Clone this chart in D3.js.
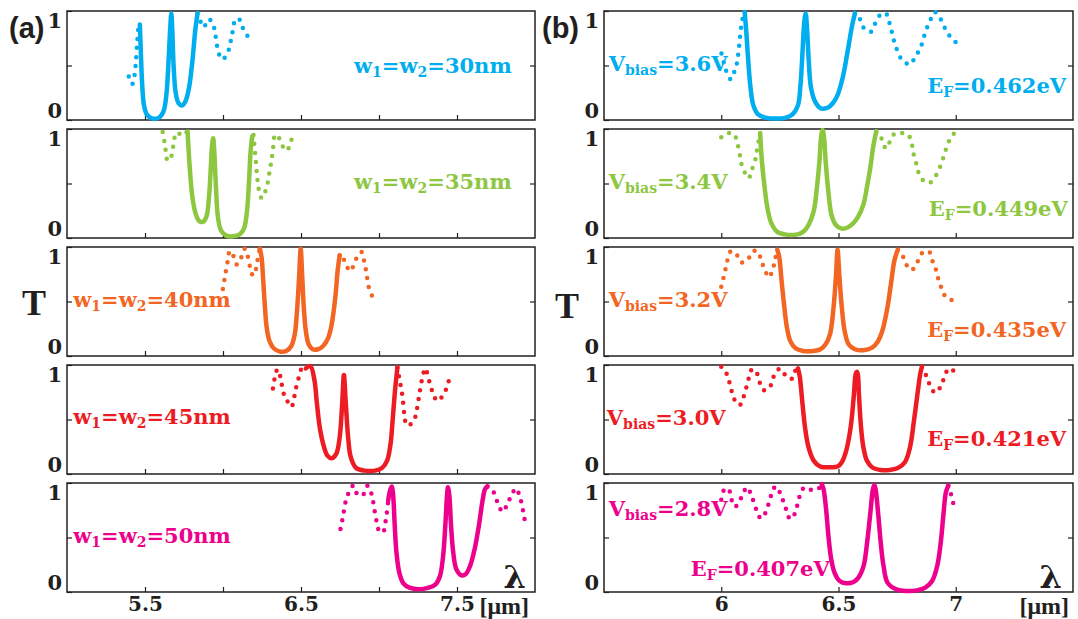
<!DOCTYPE html>
<html lang="en">
<head>
<meta charset="utf-8">
<title>Transmission spectra</title>
<script src="https://cdn.jsdelivr.net/npm/d3@7"></script>
<style>
body { margin: 0; background: #fff; }
svg text { font-family: "DejaVu Serif", serif; font-weight: bold; }
.frame { fill: none; stroke: #231f20; stroke-width: 1.5; }
.solid { fill: none; stroke-width: 4.5; stroke-linejoin: round; stroke-linecap: round; }
.dots { fill: none; stroke-width: 4.5; stroke-linecap: round; stroke-dasharray: 0 9; }
</style>
</head>
<body>
<svg width="1078" height="619"></svg>
<script>

// ---- data: [wavelength (um), T] ----

// (a) w1=w2=30nm
var w30Solid = [[5.467,0.876],[5.473,0.635],[5.482,0.325],[5.493,0.139],[5.511,0.053],[5.544,0.015],[5.589,0.022],[5.618,0.077],[5.637,0.232],[5.651,0.542],[5.662,0.851],[5.669,0.98],[5.675,0.82],[5.684,0.48],[5.697,0.248],[5.715,0.155],[5.737,0.133],[5.759,0.17],[5.782,0.294],[5.804,0.542],[5.822,0.82],[5.837,0.98]];
var w30Left = [[5.396,0.40],[5.418,0.33],[5.433,0.41],[5.442,0.54],[5.451,0.73],[5.46,0.86],[5.467,0.876]];
var w30Right = [[5.837,0.98],[5.877,0.851],[5.904,0.923],[5.932,0.898],[5.95,0.79],[5.968,0.64],[5.992,0.557],[6.025,0.598],[6.043,0.68],[6.061,0.805],[6.083,0.929],[6.116,0.907],[6.132,0.82],[6.165,0.759]];

// (a) w1=w2=35nm
var w35Solid = [[5.773,0.978],[5.788,0.621],[5.804,0.373],[5.826,0.217],[5.848,0.155],[5.873,0.149],[5.895,0.202],[5.91,0.373],[5.921,0.621],[5.93,0.854],[5.937,0.916],[5.943,0.823],[5.955,0.466],[5.968,0.186],[5.988,0.068],[6.021,0.022],[6.065,0.016],[6.11,0.037],[6.136,0.093],[6.154,0.248],[6.167,0.528],[6.176,0.776],[6.183,0.88],[6.187,0.93]];
var w35Left = [[5.613,0.972],[5.624,0.885],[5.633,0.798],[5.644,0.714],[5.66,0.714],[5.673,0.776],[5.684,0.87],[5.695,0.947],[5.711,0.969],[5.733,0.938],[5.755,0.957],[5.773,0.978]];
var w35Right = [[6.187,0.93],[6.192,0.978],[6.198,0.9],[6.205,0.792],[6.212,0.683],[6.218,0.575],[6.227,0.466],[6.238,0.388],[6.249,0.366],[6.269,0.419],[6.285,0.497],[6.298,0.606],[6.309,0.699],[6.32,0.807],[6.331,0.932],[6.349,0.947],[6.371,0.87],[6.409,0.801],[6.431,0.87],[6.453,0.963]];

// (a) w1=w2=40nm
var w40Solid = [[6.236,0.985],[6.247,0.908],[6.258,0.692],[6.269,0.446],[6.28,0.262],[6.298,0.138],[6.325,0.071],[6.365,0.04],[6.405,0.046],[6.438,0.092],[6.46,0.2],[6.476,0.446],[6.489,0.754],[6.498,0.985],[6.507,0.754],[6.518,0.446],[6.531,0.231],[6.549,0.108],[6.575,0.062],[6.609,0.062],[6.642,0.092],[6.675,0.169],[6.697,0.292],[6.72,0.538],[6.735,0.785],[6.748,0.923]];
var w40Left = [[5.999,0.615],[6.01,0.708],[6.021,0.8],[6.032,0.883],[6.043,0.963],[6.065,0.923],[6.088,0.84],[6.116,0.902],[6.139,0.985],[6.159,0.914],[6.176,0.8],[6.192,0.738],[6.21,0.791],[6.221,0.877],[6.236,0.985]];
var w40Right = [[6.748,0.923],[6.757,0.938],[6.786,0.846],[6.815,0.778],[6.841,0.846],[6.868,0.932],[6.89,0.954],[6.904,0.877],[6.917,0.785],[6.926,0.698],[6.939,0.606],[6.963,0.532]];

// (a) w1=w2=45nm
var w45Solid = [[6.531,0.969],[6.56,0.991],[6.586,0.862],[6.602,0.646],[6.62,0.431],[6.642,0.277],[6.669,0.169],[6.697,0.145],[6.726,0.185],[6.748,0.338],[6.764,0.646],[6.775,0.908],[6.786,0.677],[6.802,0.338],[6.819,0.154],[6.853,0.055],[6.908,0.031],[6.975,0.031],[7.019,0.055],[7.052,0.123],[7.074,0.277],[7.089,0.523],[7.103,0.769],[7.118,0.978]];
var w45Left = [[6.32,0.785],[6.331,0.877],[6.349,0.96],[6.365,0.908],[6.376,0.825],[6.389,0.738],[6.409,0.677],[6.438,0.615],[6.456,0.702],[6.469,0.794],[6.487,0.892],[6.502,0.96],[6.531,0.969]];
var w45Right = [[7.118,0.978],[7.13,0.877],[7.141,0.794],[7.152,0.692],[7.163,0.538],[7.178,0.446],[7.207,0.462],[7.236,0.538],[7.247,0.631],[7.258,0.723],[7.267,0.806],[7.28,0.892],[7.296,0.969],[7.325,0.837],[7.347,0.738],[7.374,0.671],[7.407,0.714],[7.436,0.8],[7.451,0.877]];

// (a) w1=w2=50nm
var w50Solid = [[7.059,0.837],[7.07,0.929],[7.081,0.969],[7.09,0.899],[7.101,0.607],[7.112,0.362],[7.13,0.178],[7.156,0.08],[7.196,0.04],[7.252,0.025],[7.318,0.04],[7.363,0.071],[7.391,0.147],[7.411,0.331],[7.425,0.607],[7.436,0.883],[7.442,0.96],[7.451,0.883],[7.462,0.607],[7.476,0.362],[7.496,0.209],[7.529,0.153],[7.555,0.163],[7.584,0.239],[7.613,0.393],[7.64,0.607],[7.662,0.822],[7.68,0.945],[7.695,0.969]];
var w50Left = [[6.753,0.577],[6.764,0.653],[6.775,0.745],[6.786,0.828],[6.802,0.899],[6.835,0.975],[6.864,0.89],[6.897,0.89],[6.926,0.975],[6.952,0.899],[6.97,0.761],[6.986,0.638],[7.001,0.561],[7.025,0.546],[7.041,0.638],[7.052,0.745],[7.059,0.837]];
var w50Right = [[7.695,0.969],[7.717,0.945],[7.746,0.89],[7.762,0.807],[7.795,0.736],[7.822,0.807],[7.85,0.89],[7.877,0.951],[7.901,0.883],[7.917,0.791],[7.928,0.706],[7.939,0.623]];

// (b) Vbias=3.6V
var v36Solid = [[6.1,0.99],[6.107,0.803],[6.115,0.548],[6.125,0.293],[6.137,0.134],[6.156,0.054],[6.188,0.022],[6.232,0.013],[6.276,0.022],[6.305,0.054],[6.327,0.134],[6.338,0.325],[6.347,0.643],[6.354,0.898],[6.36,0.978],[6.366,0.834],[6.373,0.548],[6.383,0.293],[6.401,0.166],[6.423,0.108],[6.449,0.108],[6.474,0.15],[6.496,0.229],[6.518,0.389],[6.54,0.643],[6.558,0.866],[6.57,0.978]];
var v36Left = [[6.001,0.611],[6.012,0.516],[6.022,0.446],[6.041,0.373],[6.056,0.443],[6.068,0.532],[6.073,0.618],[6.078,0.713],[6.082,0.803],[6.088,0.892],[6.097,0.987],[6.1,0.99]];
var v36Right = [[6.57,0.978],[6.581,0.978],[6.606,0.85],[6.639,0.809],[6.658,0.892],[6.68,0.968],[6.702,0.978],[6.717,0.892],[6.728,0.803],[6.739,0.707],[6.753,0.627],[6.772,0.548],[6.805,0.51],[6.827,0.58],[6.849,0.659],[6.863,0.755],[6.878,0.85],[6.893,0.924],[6.91,0.99],[6.934,0.93],[6.952,0.85],[6.974,0.771],[7.003,0.707]];

// (b) Vbias=3.4V
var v34Solid = [[6.166,0.963],[6.173,0.713],[6.185,0.463],[6.197,0.275],[6.214,0.134],[6.239,0.056],[6.276,0.031],[6.32,0.031],[6.349,0.056],[6.372,0.119],[6.394,0.244],[6.408,0.463],[6.419,0.713],[6.426,0.931],[6.432,0.99],[6.438,0.931],[6.446,0.681],[6.458,0.4],[6.47,0.213],[6.489,0.119],[6.511,0.088],[6.537,0.094],[6.562,0.134],[6.584,0.197],[6.606,0.306],[6.621,0.463],[6.636,0.65],[6.648,0.838],[6.661,0.978]];
var v34Left = [[6.0,0.925],[6.019,0.956],[6.038,0.963],[6.056,0.947],[6.068,0.875],[6.078,0.781],[6.085,0.688],[6.1,0.603],[6.117,0.55],[6.129,0.619],[6.144,0.706],[6.151,0.791],[6.159,0.884],[6.166,0.963]];
var v34Right = [[6.661,0.978],[6.68,0.931],[6.692,0.853],[6.705,0.822],[6.717,0.875],[6.739,0.956],[6.768,0.963],[6.797,0.947],[6.812,0.869],[6.819,0.781],[6.831,0.688],[6.841,0.603],[6.863,0.525],[6.89,0.509],[6.915,0.572],[6.934,0.656],[6.949,0.75],[6.963,0.844],[6.978,0.916],[7.0,0.978]];

// (b) Vbias=3.2V
var v32Solid = [[6.239,0.975],[6.247,0.913],[6.257,0.697],[6.269,0.449],[6.28,0.263],[6.294,0.139],[6.317,0.071],[6.349,0.046],[6.394,0.046],[6.423,0.062],[6.445,0.108],[6.464,0.201],[6.479,0.449],[6.489,0.728],[6.496,0.975],[6.504,0.728],[6.514,0.449],[6.526,0.232],[6.543,0.108],[6.57,0.062],[6.606,0.053],[6.643,0.077],[6.665,0.124],[6.687,0.232],[6.709,0.449],[6.724,0.666],[6.739,0.882],[6.753,0.975]];
var v32Left = [[6.0,0.635],[6.009,0.712],[6.018,0.796],[6.026,0.876],[6.041,0.96],[6.063,0.938],[6.085,0.858],[6.112,0.882],[6.134,0.96],[6.156,0.96],[6.17,0.876],[6.185,0.796],[6.203,0.721],[6.22,0.796],[6.229,0.882],[6.239,0.975]];
var v32Right = [[6.753,0.975],[6.775,0.913],[6.79,0.836],[6.812,0.789],[6.834,0.851],[6.856,0.944],[6.885,0.96],[6.9,0.876],[6.915,0.796],[6.925,0.712],[6.937,0.635],[6.952,0.557],[6.974,0.517],[6.993,0.511]];

// (b) Vbias=3.0V
var v30Solid = [[6.327,0.969],[6.335,0.892],[6.345,0.677],[6.357,0.431],[6.372,0.246],[6.394,0.123],[6.423,0.068],[6.464,0.062],[6.496,0.068],[6.514,0.108],[6.533,0.215],[6.552,0.431],[6.565,0.708],[6.574,0.923],[6.579,0.938],[6.583,0.908],[6.587,0.738],[6.596,0.431],[6.606,0.246],[6.621,0.123],[6.643,0.062],[6.68,0.037],[6.717,0.037],[6.753,0.055],[6.783,0.108],[6.805,0.246],[6.822,0.492],[6.837,0.738],[6.849,0.923],[6.856,0.985]];
var v30Left = [[6.0,0.985],[6.019,0.938],[6.034,0.846],[6.044,0.763],[6.056,0.683],[6.078,0.631],[6.095,0.708],[6.107,0.794],[6.117,0.877],[6.132,0.963],[6.151,0.929],[6.163,0.846],[6.181,0.769],[6.206,0.791],[6.22,0.877],[6.239,0.954],[6.258,0.96],[6.279,0.886],[6.304,0.877],[6.32,0.969],[6.327,0.969]];
var v30Right = [[6.856,0.985],[6.875,0.898],[6.89,0.815],[6.912,0.745],[6.937,0.806],[6.952,0.892],[6.971,0.969],[6.996,0.938]];

// (b) Vbias=2.8V
var v28Solid = [[6.428,0.99],[6.436,0.945],[6.447,0.761],[6.457,0.515],[6.469,0.301],[6.483,0.178],[6.505,0.101],[6.534,0.08],[6.564,0.092],[6.585,0.132],[6.607,0.239],[6.622,0.454],[6.636,0.73],[6.647,0.945],[6.653,0.982],[6.658,0.945],[6.67,0.699],[6.68,0.454],[6.692,0.239],[6.709,0.086],[6.746,0.025],[6.79,0.009],[6.834,0.015],[6.87,0.04],[6.899,0.101],[6.921,0.239],[6.936,0.454],[6.947,0.699],[6.958,0.914],[6.968,0.975]];
var v28Left = [[6.0,0.847],[6.013,0.939],[6.031,0.945],[6.042,0.859],[6.057,0.782],[6.074,0.816],[6.096,0.92],[6.111,0.96],[6.126,0.899],[6.14,0.816],[6.155,0.724],[6.169,0.675],[6.188,0.724],[6.203,0.816],[6.218,0.92],[6.232,0.969],[6.25,0.914],[6.264,0.837],[6.282,0.724],[6.293,0.669],[6.315,0.724],[6.327,0.822],[6.34,0.914],[6.355,0.96],[6.381,0.939],[6.41,0.939],[6.428,0.99]];
var v28Right = [[6.968,0.975],[6.975,0.939],[6.982,0.877],[6.991,0.798]];

// ---- categories, labels, ticks ----
var colors = ["#00aeef", "#8dc63f", "#f26522", "#ed1c24", "#ec008c"];
var widths = ["30", "35", "40", "45", "50"];
var vbias = ["3.6", "3.4", "3.2", "3.0", "2.8"];
var fermi = ["0.462", "0.449", "0.435", "0.421", "0.407"];
var leftTicks = [5.5, 6, 6.5, 7, 7.5];
var leftTickLabels = [5.5, 6.5, 7.5];
var rightTicks = [6, 6.5, 7];
var rightTickLabels = [6, 6.5, 7];
var yTicks = [0, 0.5, 1];

var wSeries = [[w30Solid, w30Left, w30Right], [w35Solid, w35Left, w35Right], [w40Solid, w40Left, w40Right], [w45Solid, w45Left, w45Right], [w50Solid, w50Left, w50Right]];
var vSeries = [[v36Solid, v36Left, v36Right], [v34Solid, v34Left, v34Right], [v32Solid, v32Left, v32Right], [v30Solid, v30Left, v30Right], [v28Solid, v28Left, v28Right]];

// label anchors (data coords of each row)
var wLabelPos = [[6.84, 0.43], [6.84, 0.45], [5.04, 0.446], [5.04, 0.455], [5.04, 0.454]];
var vLabelPos = [[5.52, 0.45], [5.52, 0.45], [5.52, 0.446], [5.512, 0.446], [5.52, 0.70]];
var eLabelPos = [[6.878, 0.245], [6.885, 0.206], [6.878, 0.176], [6.878, 0.26], [5.87, 0.147]];

// ---- layout ----
var svg = d3.select("svg");
var rowTop = 11, rowStep = 118, rowH = 109;

var xLeft = d3.scaleLinear().domain([5, 8]).range([67, 535]);
var xRight = d3.scaleLinear().domain([5.5, 7.5]).range([604, 1073]);

function yScale(i) {
  var top = rowTop + i * rowStep;
  return d3.scaleLinear().domain([0, 1]).range([top + rowH, top]);
}

// text with subscripts; shift baseline down for sub, back up after
function label(g, x, y, parts, color) {
  var t = g.append("text")
      .attr("x", x).attr("y", y)
      .attr("fill", color)
      .style("font-size", "21px");
  var back = 0;
  parts.forEach(function(p) {
    if (p.sub) {
      t.append("tspan").attr("dy", 4).style("font-size", "14px").text(p.sub);
      back = -4;
    } else {
      t.append("tspan").attr("dy", back).text(p.t);
      back = 0;
    }
  });
}

function drawRow(x, i, series, ticks, tickLabels, last) {
  var y = yScale(i);
  var g = svg.append("g");
  var x0 = x.range()[0], x1 = x.range()[1];

  g.append("rect").attr("class", "frame")
      .attr("x", x0).attr("y", y(1))
      .attr("width", x1 - x0).attr("height", y(0) - y(1));

  // bottom ticks
  g.append("g")
      .attr("transform", "translate(0," + y(0) + ")")
      .call(d3.axisBottom(x).tickValues(ticks).tickSize(-5).tickPadding(5)
        .tickFormat(function(d) { return last && tickLabels.indexOf(d) >= 0 ? d : ""; }))
      .call(function(a) { a.select(".domain").remove(); })
      .call(function(a) {
        a.selectAll("line").attr("stroke", "#231f20").attr("stroke-width", 1.2);
        a.selectAll("text").attr("fill", "#231f20")
          .style("font-family", "'DejaVu Serif', serif").style("font-size", "20px");
      });

  // left ticks + labels
  g.append("g")
      .attr("transform", "translate(" + x0 + ",0)")
      .call(d3.axisLeft(y).tickValues(yTicks).tickSize(-5).tickPadding(5)
        .tickFormat(function(d) { return d === 0.5 ? "" : d; }))
      .call(function(a) { a.select(".domain").remove(); })
      .call(function(a) {
        a.selectAll("line").attr("stroke", "#231f20").attr("stroke-width", 1.2);
        a.selectAll("text").attr("fill", "#231f20")
          .style("font-family", "'DejaVu Serif', serif").style("font-size", "21px")
          .attr("dy", function(d) { return d === 1 ? "0.78em" : d === 0 ? "-0.1em" : "0.32em"; });
      });

  // right ticks
  g.append("g")
      .attr("transform", "translate(" + x1 + ",0)")
      .call(d3.axisRight(y).tickValues([0.5]).tickSize(-5).tickFormat(""))
      .call(function(a) { a.select(".domain").remove(); })
      .call(function(a) { a.selectAll("line").attr("stroke", "#231f20").attr("stroke-width", 1.2); });

  var line = d3.line()
      .x(function(d) { return x(d[0]); })
      .y(function(d) { return y(d[1]); })
      .curve(d3.curveCatmullRom.alpha(0.5));

  g.append("path").attr("class", "dots").attr("stroke", colors[i]).attr("d", line(series[1]));
  g.append("path").attr("class", "dots").attr("stroke", colors[i]).attr("d", line(series[2]));
  g.append("path").attr("class", "solid").attr("stroke", colors[i]).attr("d", line(series[0]));

  return {g: g, y: y};
}

for (var i = 0; i < 5; i++) {
  var last = i === 4;
  var L = drawRow(xLeft, i, wSeries[i], leftTicks, leftTickLabels, last);
  label(L.g, xLeft(wLabelPos[i][0]), L.y(wLabelPos[i][1]),
    [{t: "w"}, {sub: "1"}, {t: "=w"}, {sub: "2"}, {t: "=" + widths[i] + "nm"}], colors[i]);

  var R = drawRow(xRight, i, vSeries[i], rightTicks, rightTickLabels, last);
  label(R.g, xRight(vLabelPos[i][0]), R.y(vLabelPos[i][1]),
    [{t: "V"}, {sub: "bias"}, {t: "=" + vbias[i] + "V"}], colors[i]);
  label(R.g, xRight(eLabelPos[i][0]), R.y(eLabelPos[i][1]),
    [{t: "E"}, {sub: "F"}, {t: "=" + fermi[i] + "eV"}], colors[i]);
}

// panel letters, axis titles
svg.append("text").attr("x", 9).attr("y", 38)
    .style("font-family", "'Liberation Sans', sans-serif").style("font-size", "29px")
    .attr("fill", "#231f20").text("(a)");
svg.append("text").attr("x", 542).attr("y", 38)
    .style("font-family", "'Liberation Sans', sans-serif").style("font-size", "29px")
    .attr("fill", "#231f20").text("(b)");

[[34, 315], [567, 318]].forEach(function(p) {
  svg.append("text").attr("x", p[0]).attr("y", p[1]).attr("text-anchor", "middle")
      .style("font-family", "'Liberation Serif', serif").style("font-size", "36px")
      .attr("fill", "#231f20").text("T");
});

var yBottom = yScale(4)(0);
[[xLeft, 9], [xRight, 11]].forEach(function(p) {
  svg.append("text").attr("x", p[0].range()[1] - p[1]).attr("y", yBottom - 4)
      .attr("text-anchor", "end")
      .style("font-family", "'DejaVu Serif', serif").style("font-size", "32px")
      .attr("fill", "#231f20").text("λ");
});
[[xLeft, 6], [xRight, 4]].forEach(function(p) {
  svg.append("text").attr("x", p[0].range()[1] - p[1]).attr("y", yBottom + 22)
      .attr("text-anchor", "end")
      .style("font-family", "'Liberation Serif', serif").style("font-size", "24px")
      .attr("fill", "#231f20").text("[μm]");
});

</script>
</body>
</html>
